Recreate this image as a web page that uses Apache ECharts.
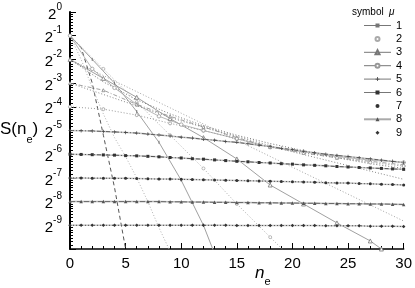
<!DOCTYPE html>
<html><head><meta charset="utf-8">
<script src="https://cdn.jsdelivr.net/npm/echarts@6/dist/echarts.min.js"></script>
<style>html,body{margin:0;padding:0;background:#fff}#c{width:415px;height:288px}</style>
</head><body><div id="c"></div>
<script>
// n_e values for the flat families
const nAll = [0,1,2,3,4,5,6,7,8,9,10,11,12,13,14,15,16,17,18,19,20,21,22,23,24,25,26,27,28,29,30];
// log2 S(n_e)
const mu5 = [-5.00,-5.01,-5.02,-5.04,-5.06,-5.08,-5.11,-5.15,-5.19,-5.23,-5.28,-5.32,-5.37,-5.41,-5.46,-5.50,-5.56,-5.62,-5.68,-5.75,-5.81,-5.88,-5.94,-6.00,-6.05,-6.10,-6.15,-6.20,-6.25,-6.30,-6.35];
const mu6 = [-6.00,-6.01,-6.02,-6.03,-6.04,-6.06,-6.07,-6.09,-6.11,-6.14,-6.16,-6.19,-6.21,-6.24,-6.27,-6.30,-6.32,-6.35,-6.37,-6.40,-6.42,-6.45,-6.47,-6.49,-6.52,-6.54,-6.56,-6.58,-6.60,-6.62,-6.64];
const mu7 = [-7.00,-7.00,-7.01,-7.01,-7.02,-7.02,-7.03,-7.04,-7.05,-7.05,-7.06,-7.07,-7.08,-7.09,-7.10,-7.11,-7.12,-7.13,-7.14,-7.15,-7.16,-7.17,-7.18,-7.20,-7.21,-7.22,-7.24,-7.25,-7.27,-7.28,-7.30];
const mu8 = [-8.00,-8.00,-8.00,-8.00,-8.00,-8.00,-8.00,-8.00,-8.00,-8.01,-8.01,-8.02,-8.02,-8.03,-8.03,-8.04,-8.04,-8.05,-8.05,-8.06,-8.06,-8.07,-8.07,-8.08,-8.08,-8.09,-8.09,-8.10,-8.10,-8.11,-8.12];
const mu9 = [-9.00,-9.00,-9.00,-9.00,-9.00,-9.00,-9.00,-9.00,-9.00,-9.00,-9.00,-9.00,-9.00,-9.00,-9.00,-9.01,-9.01,-9.01,-9.01,-9.01,-9.01,-9.01,-9.01,-9.02,-9.02,-9.02,-9.02,-9.04,-9.04,-9.04,-9.05];
// descending curves: n_e positions and log2 S values
const c1N = [0,1,2,3,4,5];            const c1E = [-1,-1.5,-3.0,-5.2,-7.4,-10];
const c2N = [0,1,2,3,4,5,6,7,8,9];    const c2E = [-1,-2.0,-3.2,-4.3,-5.3,-6.1,-7.0,-8.0,-9.1,-10.1];
const c3N = [0,2,4,6,8,10,12,13];     const c3E = [-1,-2.0,-3.0,-4.2,-5.5,-7.1,-9.0,-10.2];
const d4N = [0,3,6,9,12,15,18,19.5];  const d4E = [-1,-2.4,-3.8,-5.2,-6.6,-8.1,-9.5,-10.2];
const d5N = [0,3,6,9,12,15,18,21,24,27,28]; const d5E = [-2,-2.8,-3.6,-4.5,-5.3,-6.2,-7.3,-8.1,-8.9,-9.66,-10];
const d6N = [0,10,20,30];             const d6E = [-2,-4.27,-6.55,-8.82];
const d7N = [0,10,20,30];             const d7E = [-3,-4.6,-5.9,-7.06];
const u1N = [0,2,4,6,8,10,12,15,18,21,24,27,30]; const u1E = [-1,-2.4,-3.2,-3.9,-4.4,-4.75,-5.0,-5.35,-5.7,-5.9,-6.1,-6.25,-6.35];
const u2N = [0,3,6,9,12,15,18,21,24,27,30]; const u2E = [-2,-2.95,-3.7,-4.3,-4.8,-5.2,-5.55,-5.85,-6.15,-6.4,-6.6];
const u3N = [0,3,6,9,12,15,18,21,24,27,30]; const u3E = [-3,-3.3,-3.9,-4.4,-4.85,-5.3,-5.7,-5.95,-6.15,-6.3,-6.45];
const u4N = [0,3,6,9,12,15,18,21,24,27,30]; const u4E = [-4,-4.1,-4.35,-4.7,-5.0,-5.35,-5.7,-5.95,-6.15,-6.35,-6.5];
const yTickExps = [0,-1,-2,-3,-4,-5,-6,-7,-8,-9];
const legendNames = ['1','2','3','4','5','6','7','8','9'];

const pts = (ns, es) => ns.map((n, i) => [n, Math.pow(2, es[i])]);
const plus = 'path://M0,4L4,4L4,0L6,0L6,4L10,4L10,6L6,6L6,10L4,10L4,6L0,6Z';
function line(name, ns, es, color, type, width, symbol, size, itemStyle) {
  return {
    name, type: 'line', data: pts(ns, es), silent: true, animation: false,
    showSymbol: !!symbol, symbol: symbol || 'none', symbolSize: size || 3,
    lineStyle: { color, type, width },
    itemStyle: itemStyle || { color },
    z: 2
  };
}
const openStyle = (c) => ({ color: '#fff', borderColor: c, borderWidth: 0.8 });

const series = [
  // descending curves
  line('x1', c1N, c1E, '#555', [4, 3], 1),
  line('x2', c2N, c2E, '#b0b0b0', [1, 2], 1),
  line('1', c3N, c3E, '#a0a0a0', 'solid', 1, 'rect', [1, 3], { color: '#777' }),
  line('2', d4N, d4E, '#aaa', [1, 2], 1, 'circle', 3, openStyle('#aaa')),
  line('3', d5N, d5E, '#888', 'solid', 0.8, 'triangle', 4, openStyle('#777')),
  line('x6', d6N, d6E, '#a5a5a5', [1, 2], 1),
  line('x7', d7N, d7E, '#888', [1, 2], 1),
  line('4', u1N, u1E, '#a5a5a5', 'solid', 0.8, 'circle', 3.5, openStyle('#999')),
  line('x8', u2N, u2E, '#777', [1, 2], 1),
  line('x9', u3N, u3E, '#888', [4, 2, 1, 2], 0.8, 'triangle', 3, openStyle('#888')),
  line('x10', u4N, u4E, '#999', [1, 2], 1, 'circle', 3, openStyle('#999')),
  // flat families: gray solid underlay + dark patterned line with markers
  line('g5', nAll, mu5, '#c4c4c4', 'solid', 1.5),
  line('g6', nAll, mu6, '#c4c4c4', 'solid', 1.5),
  line('g7', nAll, mu7, '#c4c4c4', 'solid', 1.5),
  line('g8', nAll, mu8, '#b5b5b5', 'solid', 1.5),
  line('g9', nAll, mu9, '#c4c4c4', 'solid', 1.5),
  line('5', nAll, mu5, '#444', [4, 2, 1, 2], 0.8, plus, 3.5),
  line('6', nAll, mu6, '#333', [4, 2, 1, 2], 0.8, 'rect', 3),
  line('7', nAll, mu7, '#333', [1, 2], 0.8, 'circle', 3),
  line('8', nAll, mu8, '#555', [5, 2], 0.8, 'triangle', 3.5),
  line('9', nAll, mu9, '#333', [1, 2], 0.8, 'diamond', 3.5)
];

const chart = echarts.init(document.getElementById('c'), null, { renderer: 'canvas' });
const FF = 'Liberation Sans, Arial, sans-serif';
chart.setOption({
  backgroundColor: '#fff',
  animation: false,
  grid: { left: 70, right: 9, top: 12, bottom: 39, containLabel: false },
  legend: {
    orient: 'vertical', left: 358, top: 15,
    itemWidth: 27, itemHeight: 5, itemGap: 2.4,
    textStyle: { fontSize: 11, color: '#000', fontFamily: FF, lineHeight: 8 },
    data: legendNames.map(n => {
      const o = { name: n };
      if (n === '2' || n === '7' || n === '9') o.lineStyle = { opacity: 0 };
      else if (n === '8') o.lineStyle = { color: '#aaa', width: 2, type: 'solid' };
      else o.lineStyle = { type: 'solid', color: '#777', width: 1 };
      return o;
    }),
    selectedMode: false
  },
  graphic: [
    { type: 'text', left: 352, top: 7, style: { text: 'symbol', fontSize: 10, fill: '#000', fontFamily: FF } },
    { type: 'text', left: 389, top: 7, style: { text: 'μ', fontSize: 10, fontStyle: 'italic', fill: '#000', fontFamily: FF } },
    { type: 'text', left: 0, top: 121, style: { text: '{a|S(n}{s|e}{a|)}', rich: {
      a: { fontSize: 17, fontFamily: FF, fill: '#000', lineHeight: 24, verticalAlign: 'top' },
      s: { fontSize: 11, fontFamily: FF, fill: '#000', lineHeight: 24, verticalAlign: 'bottom' } } } },
    { type: 'text', left: 255, top: 265, style: { text: '{a|n}{s|e}', rich: {
      a: { fontSize: 17, fontStyle: 'italic', fontFamily: FF, fill: '#000', lineHeight: 22, verticalAlign: 'top' },
      s: { fontSize: 11, fontFamily: FF, fill: '#000', lineHeight: 22, verticalAlign: 'bottom' } } } }
  ],
  xAxis: {
    type: 'value', min: 0, max: 30, interval: 5,
    axisLine: { show: true, onZero: false, lineStyle: { color: '#000', width: 1.5 } },
    axisTick: { show: true, inside: true, length: 6, lineStyle: { color: '#000' } },
    minorTick: { show: true, splitNumber: 5, length: 3, lineStyle: { color: '#000' } },
    splitLine: { show: false },
    axisLabel: { fontSize: 15, color: '#000', fontFamily: FF, margin: 7 }
  },
  yAxis: {
    type: 'log', logBase: 2, min: Math.pow(2, -10), max: 1, interval: 1,
    axisLine: { show: true, lineStyle: { color: '#000', width: 2 } },
    axisTick: { show: true, inside: true, length: 6, lineStyle: { color: '#000' } },
    minorTick: { show: true, splitNumber: 8, length: 3, lineStyle: { color: '#000' } },
    splitLine: { show: false },
    axisLabel: {
      margin: 8, color: '#000',
      formatter: v => {
        const e = Math.round(Math.log2(v));
        return yTickExps.indexOf(e) < 0 ? '' : '{b|2}{s|' + e + '}';
      },
      rich: {
        b: { fontSize: 15, fontFamily: FF, color: '#000', lineHeight: 20, verticalAlign: 'bottom' },
        s: { fontSize: 10, fontFamily: FF, color: '#000', lineHeight: 20, verticalAlign: 'top' }
      }
    }
  },
  series
});
</script></body></html>
